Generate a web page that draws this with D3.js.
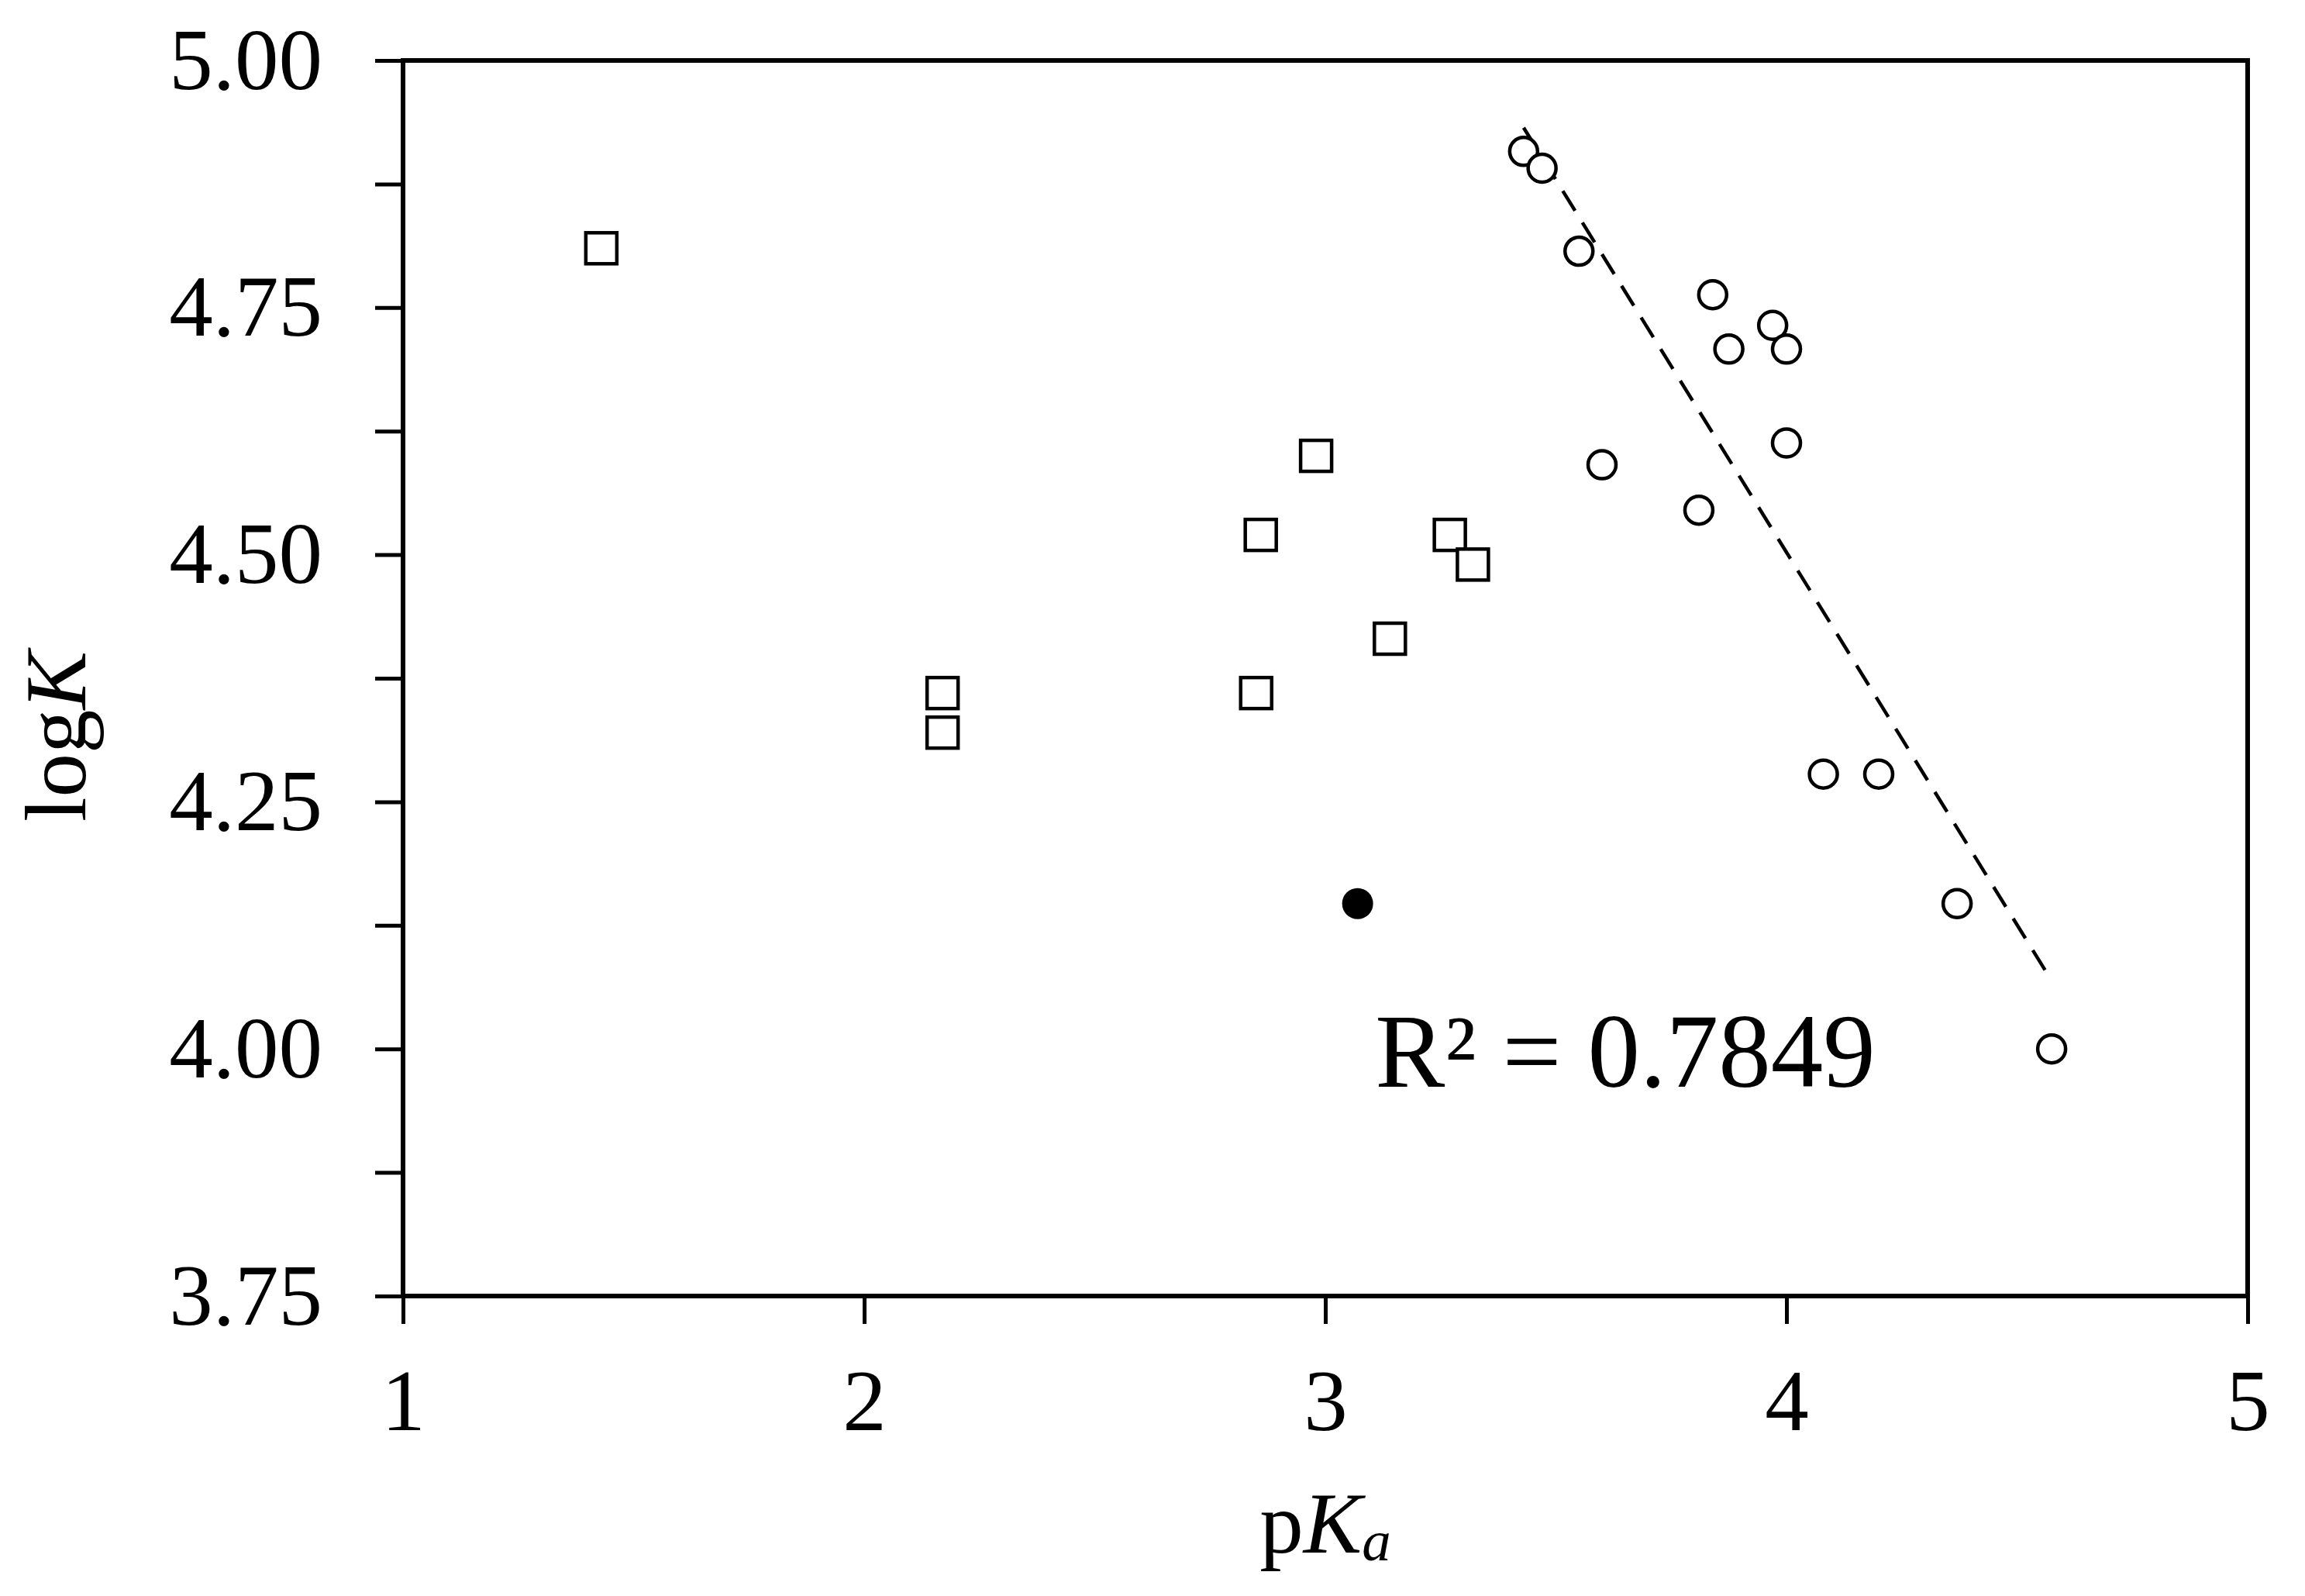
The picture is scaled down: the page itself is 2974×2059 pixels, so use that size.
<!DOCTYPE html><html><head><meta charset="utf-8">
<script src="https://cdn.jsdelivr.net/npm/d3@7"></script>
<style>body{margin:0;background:#fff}text{font-family:"Liberation Serif","Times New Roman",serif}</style></head><body>
<svg id="c" width="2974" height="2059"></svg>
<script>
const squares=[[1.43,4.81],[2.17,4.36],[2.17,4.32],[2.86,4.52],[2.85,4.36],[2.98,4.60],[3.14,4.415],[3.27,4.52],[3.32,4.49]];
const filled=[[3.07,4.147]];
const circles=[[3.43,4.908],[3.47,4.891],[3.55,4.807],[3.60,4.591],[3.81,4.545],[3.84,4.763],[3.875,4.708],[3.97,4.732],[4.00,4.708],[4.00,4.613],[4.08,4.278],[4.20,4.278],[4.37,4.147],[4.575,4.0]];
const trend=[[3.43,4.932],[4.575,4.069]];
const xTicks=[1,2,3,4,5];
const yTicks=[3.75,4.00,4.25,4.50,4.75,5.00];
const yMinor=[3.875,4.125,4.375,4.625,4.875];
const svg=d3.select("#c");
const L=520,R=2900,T=78,B=1672;
const x=d3.scaleLinear().domain([1,5]).range([L,R]);
const y=d3.scaleLinear().domain([3.75,5]).range([B,T]);
svg.append("rect").attr("x",L).attr("y",T).attr("width",R-L).attr("height",B-T).attr("fill","none").attr("stroke","#000").attr("stroke-width",6);
svg.append("g").attr("transform",`translate(0,${B})`).call(d3.axisBottom(x).tickValues(xTicks).tickFormat(d3.format("d")).tickSize(36).tickPadding(57));
svg.append("g").attr("transform",`translate(${L},0)`).call(d3.axisLeft(y).tickValues(yTicks).tickFormat(d3.format(".2f")).tickSize(36).tickPadding(68));
svg.append("g").attr("transform",`translate(${L},0)`).call(d3.axisLeft(y).tickValues(yMinor).tickFormat("").tickSize(36));
svg.selectAll(".domain").remove();
svg.selectAll(".tick line").attr("stroke","#000").attr("stroke-width",5);
svg.selectAll(".tick text").attr("fill","#000").style("font-size","113px").style("font-family","Liberation Serif");
const lg=d3.line().x(d=>x(d[0])).y(d=>y(d[1]));
svg.append("path").attr("d",lg(trend)).attr("stroke","#000").attr("stroke-width",4.5).attr("stroke-dasharray","30,18").attr("fill","none");
svg.selectAll(".sq").data(squares).enter().append("rect").attr("x",d=>x(d[0])-20).attr("y",d=>y(d[1])-20).attr("width",40).attr("height",40).attr("fill","#fff").attr("stroke","#000").attr("stroke-width",4.5);
svg.selectAll(".ci").data(circles).enter().append("circle").attr("cx",d=>x(d[0])).attr("cy",d=>y(d[1])).attr("r",18).attr("fill","#fff").attr("stroke","#000").attr("stroke-width",4.5);
svg.selectAll(".fi").data(filled).enter().append("circle").attr("cx",d=>x(d[0])).attr("cy",d=>y(d[1])).attr("r",20).attr("fill","#000");
svg.append("text").attr("x",x(3.108)).attr("y",y(3.962)).style("font-size","135px").text("R² = 0.7849");
const yl=svg.append("text").attr("transform",`translate(110,950) rotate(-90)`).attr("text-anchor","middle").style("font-size","113px");
yl.append("tspan").text("log");yl.append("tspan").attr("font-style","italic").text("K");
const xl=svg.append("text").attr("x",(L+R)/2).attr("y",2003).attr("text-anchor","middle").style("font-size","113px");
xl.append("tspan").text("p");xl.append("tspan").attr("font-style","italic").text("K");xl.append("tspan").attr("font-style","italic").attr("font-size","75px").attr("dy",10).text("a");
</script></body></html>
